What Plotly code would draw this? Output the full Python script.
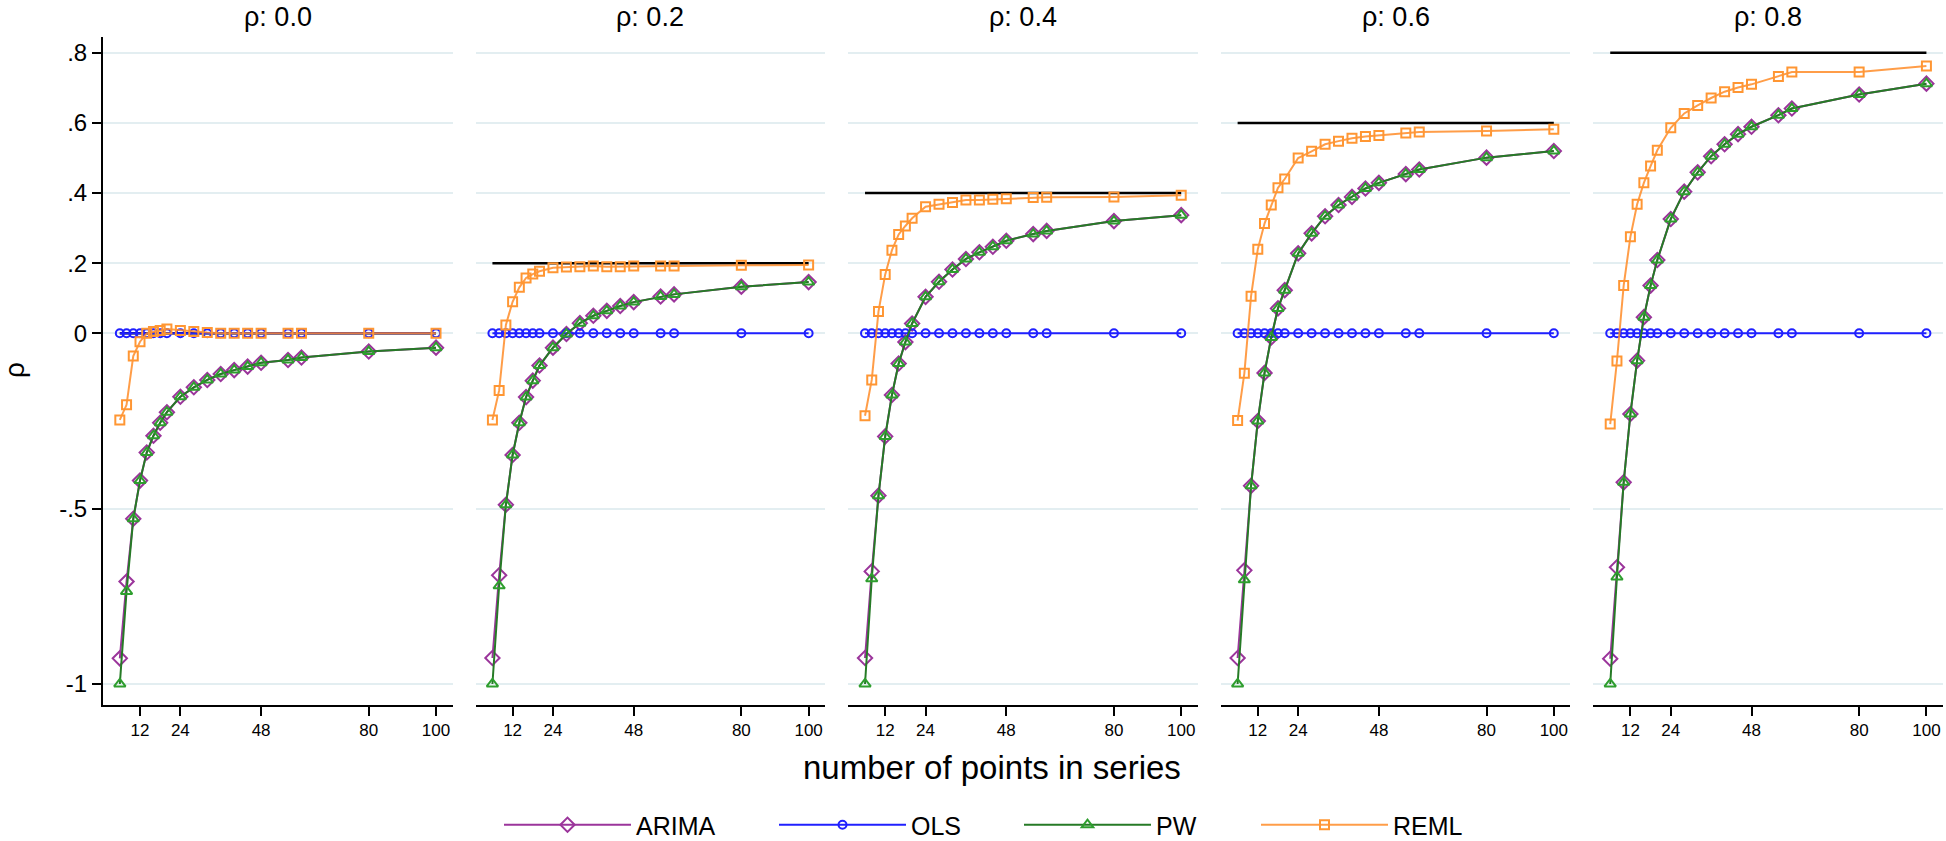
import plotly.graph_objects as go

# ---------------- data ----------------
n_points = [6, 8, 10, 12, 14, 16, 18, 20, 24, 28, 32, 36, 40, 44, 48, 56, 60, 80, 100]
true_rho = [0.0, 0.2, 0.4, 0.6, 0.8]
panel_titles = ["ρ: 0.0", "ρ: 0.2", "ρ: 0.4", "ρ: 0.6", "ρ: 0.8"]
method_names = ["ARIMA", "OLS", "PW", "REML"]

x_tickvals = [12, 24, 48, 80, 100]
y_tickvals = [0.8, 0.6, 0.4, 0.2, 0, -0.5, -1]
y_ticktext = [".8", ".6", ".4", ".2", "0", "-.5", "-1"]

arima_r00 = [-0.927, -0.708, -0.529, -0.420, -0.340, -0.292, -0.255, -0.225, -0.181, -0.154,
             -0.133, -0.116, -0.105, -0.095, -0.084, -0.076, -0.069, -0.052, -0.041]
arima_r02 = [-0.926, -0.690, -0.489, -0.347, -0.255, -0.182, -0.135, -0.092, -0.041, -0.002,
             0.029, 0.050, 0.064, 0.078, 0.089, 0.105, 0.111, 0.133, 0.146]
arima_r04 = [-0.926, -0.679, -0.463, -0.294, -0.176, -0.086, -0.025, 0.028, 0.104, 0.147,
             0.182, 0.212, 0.231, 0.247, 0.264, 0.283, 0.292, 0.320, 0.337]
arima_r06 = [-0.926, -0.676, -0.435, -0.250, -0.113, -0.012, 0.071, 0.123, 0.228, 0.285,
             0.334, 0.366, 0.389, 0.413, 0.429, 0.454, 0.467, 0.501, 0.520]
arima_r08 = [-0.928, -0.667, -0.425, -0.230, -0.078, 0.046, 0.136, 0.209, 0.326, 0.404,
             0.459, 0.505, 0.539, 0.568, 0.589, 0.622, 0.641, 0.681, 0.712]

ols_est = [0.0, 0.0, 0.0, 0.0, 0.0, 0.0, 0.0, 0.0, 0.0, 0.0,
           0.0, 0.0, 0.0, 0.0, 0.0, 0.0, 0.0, 0.0, 0.0]

pw_r00 = [-1.000, -0.736, -0.529, -0.420, -0.340, -0.292, -0.255, -0.225, -0.181, -0.154,
          -0.133, -0.116, -0.105, -0.095, -0.084, -0.076, -0.069, -0.052, -0.041]
pw_r02 = [-1.000, -0.720, -0.489, -0.347, -0.255, -0.182, -0.135, -0.092, -0.041, -0.002,
          0.029, 0.050, 0.064, 0.078, 0.089, 0.105, 0.111, 0.133, 0.146]
pw_r04 = [-1.000, -0.700, -0.463, -0.294, -0.176, -0.086, -0.025, 0.028, 0.104, 0.147,
          0.182, 0.212, 0.231, 0.247, 0.264, 0.283, 0.292, 0.320, 0.337]
pw_r06 = [-1.000, -0.703, -0.435, -0.250, -0.113, -0.012, 0.071, 0.123, 0.228, 0.285,
          0.334, 0.366, 0.389, 0.413, 0.429, 0.454, 0.467, 0.501, 0.520]
pw_r08 = [-1.000, -0.695, -0.425, -0.230, -0.078, 0.046, 0.136, 0.209, 0.326, 0.404,
          0.459, 0.505, 0.539, 0.568, 0.589, 0.622, 0.641, 0.681, 0.712]

reml_r00 = [-0.247, -0.204, -0.065, -0.024, 0.000, 0.005, 0.008, 0.012, 0.008, 0.005,
            0.002, 0.000, 0.000, 0.000, 0.000, 0.000, 0.000, 0.000, 0.000]
reml_r02 = [-0.247, -0.163, 0.024, 0.090, 0.131, 0.158, 0.169, 0.177, 0.187, 0.189,
            0.190, 0.192, 0.190, 0.190, 0.192, 0.192, 0.192, 0.194, 0.195]
reml_r04 = [-0.235, -0.133, 0.062, 0.168, 0.237, 0.282, 0.306, 0.328, 0.361, 0.368,
            0.373, 0.380, 0.380, 0.382, 0.384, 0.387, 0.388, 0.389, 0.394]
reml_r06 = [-0.249, -0.114, 0.106, 0.240, 0.313, 0.366, 0.415, 0.440, 0.500, 0.519,
            0.539, 0.548, 0.556, 0.561, 0.564, 0.571, 0.574, 0.577, 0.582]
reml_r08 = [-0.259, -0.079, 0.136, 0.275, 0.368, 0.429, 0.477, 0.522, 0.586, 0.627,
            0.650, 0.671, 0.689, 0.701, 0.710, 0.732, 0.745, 0.745, 0.762]

arima_panels = [arima_r00, arima_r02, arima_r04, arima_r06, arima_r08]
pw_panels = [pw_r00, pw_r02, pw_r04, pw_r06, pw_r08]
reml_panels = [reml_r00, reml_r02, reml_r04, reml_r06, reml_r08]

# ---------------- styling ----------------
FONT = "Liberation Sans, Arial, Helvetica, sans-serif"
C_ARIMA = "#9b359b"
C_OLS = "#2020ff"
C_PW_LINE = "#267a26"
C_PW_MARK = "#2e9e2e"
C_REML = "#ff9633"
GRID = "#e3eef1"

W, H = 1946, 841
ML, MR, MT, MB = 103, 3, 37, 136
PW_AREA = W - ML - MR
PH_AREA = H - MT - MB
PANEL_W = 349.5
PANEL_STEP = 372.6
LEGEND_LINE_START = [504, 779, 1024, 1261]   # pixel x where each legend key starts
LEGEND_Y = 825

fig = go.Figure()

for i in range(5):
    xa = "x" if i == 0 else f"x{i+1}"
    ya = "y" if i == 0 else f"y{i+1}"
    first = (i == 0)
    fig.add_trace(go.Scatter(
        x=[n_points[0], n_points[-1]], y=[true_rho[i], true_rho[i]],
        mode="lines", line=dict(color="black", width=2.5),
        xaxis=xa, yaxis=ya, showlegend=False, hoverinfo="skip"))
    fig.add_trace(go.Scatter(
        x=n_points, y=arima_panels[i], name=method_names[0], legendgroup="ARIMA", legend="legend",
        mode="lines+markers", line=dict(color=C_ARIMA, width=2),
        marker=dict(symbol="diamond-open", size=11, color=C_ARIMA, line=dict(width=2)),
        xaxis=xa, yaxis=ya, showlegend=first))
    fig.add_trace(go.Scatter(
        x=n_points, y=ols_est, name=method_names[1], legendgroup="OLS", legend="legend2",
        mode="lines+markers", line=dict(color=C_OLS, width=2),
        marker=dict(symbol="circle-open", size=8, color=C_OLS, line=dict(width=2)),
        xaxis=xa, yaxis=ya, showlegend=first))
    fig.add_trace(go.Scatter(
        x=n_points, y=pw_panels[i], name=method_names[2], legendgroup="PW", legend="legend3",
        mode="lines+markers", line=dict(color=C_PW_LINE, width=2),
        marker=dict(symbol="triangle-up-open", size=10, color=C_PW_MARK, line=dict(width=2)),
        xaxis=xa, yaxis=ya, showlegend=first))
    fig.add_trace(go.Scatter(
        x=n_points, y=reml_panels[i], name=method_names[3], legendgroup="REML", legend="legend4",
        mode="lines+markers", line=dict(color="rgba(255,140,40,0.85)", width=2),
        marker=dict(symbol="square-open", size=9, color=C_REML, line=dict(width=2)),
        xaxis=xa, yaxis=ya, showlegend=first))

layout = dict(
    width=W, height=H,
    margin=dict(l=ML, r=MR, t=MT, b=MB, pad=0, autoexpand=False),
    paper_bgcolor="white", plot_bgcolor="white",
    font=dict(family=FONT, color="black"),
    showlegend=True,
)

for k, start in enumerate(LEGEND_LINE_START):
    key = "legend" if k == 0 else f"legend{k+1}"
    layout[key] = dict(
        orientation="h", x=(start - 5 - ML) / PW_AREA, xref="paper",
        y=(H - LEGEND_Y) / H, yref="container",
        xanchor="left", yanchor="middle",
        font=dict(size=25, family=FONT, color="black"),
        itemwidth=127, bgcolor="rgba(0,0,0,0)")

annotations = []
for i in range(5):
    s = i * PANEL_STEP
    dom = [s / PW_AREA, min(1.0, (s + PANEL_W) / PW_AREA)]
    xkey = "xaxis" if i == 0 else f"xaxis{i+1}"
    ykey = "yaxis" if i == 0 else f"yaxis{i+1}"
    layout[xkey] = dict(
        domain=dom, range=[1, 104.9], tickvals=x_tickvals,
        ticks="outside", ticklen=9, tickwidth=1.5, tickcolor="black",
        showline=True, linecolor="black", linewidth=2,
        showgrid=False, zeroline=False,
        tickfont=dict(size=17, family=FONT, color="black"),
        anchor="y" if i == 0 else f"y{i+1}")
    ydict = dict(
        domain=[0, 1], range=[-1.06, 0.845], tickvals=y_tickvals,
        showgrid=True, gridcolor=GRID, gridwidth=1.5, zeroline=False,
        anchor="x" if i == 0 else f"x{i+1}")
    if i == 0:
        ydict.update(ticktext=y_ticktext, ticks="outside", ticklen=9, tickwidth=1.5,
                     tickcolor="black", showline=True, linecolor="black", linewidth=2,
                     tickfont=dict(size=24, family=FONT, color="black"))
    else:
        ydict.update(matches="y", showticklabels=False, ticks="", showline=False)
    layout[ykey] = ydict
    annotations.append(dict(
        text=panel_titles[i], xref="paper", yref="paper",
        x=(dom[0] + dom[1]) / 2, y=(H - MB - 17) / PH_AREA,
        xanchor="center", yanchor="middle", showarrow=False,
        font=dict(size=27, family=FONT, color="black")))

annotations.append(dict(
    text="number of points in series", xref="paper", yref="paper",
    x=(992 - ML) / PW_AREA, y=(H - MB - 768) / PH_AREA,
    xanchor="center", yanchor="middle", showarrow=False,
    font=dict(size=33, family=FONT, color="black")))
annotations.append(dict(
    text="ρ", xref="paper", yref="paper", textangle=-90,
    x=(14 - ML) / PW_AREA, y=(H - MB - 370) / PH_AREA,
    xanchor="center", yanchor="middle", showarrow=False,
    font=dict(size=28, family=FONT, color="black")))
layout["annotations"] = annotations

fig.update_layout(**layout)
fig.write_html("out.html",
               config={"displayModeBar": False},
               post_script="document.body.style.margin='0px';document.body.style.overflow='hidden';")
